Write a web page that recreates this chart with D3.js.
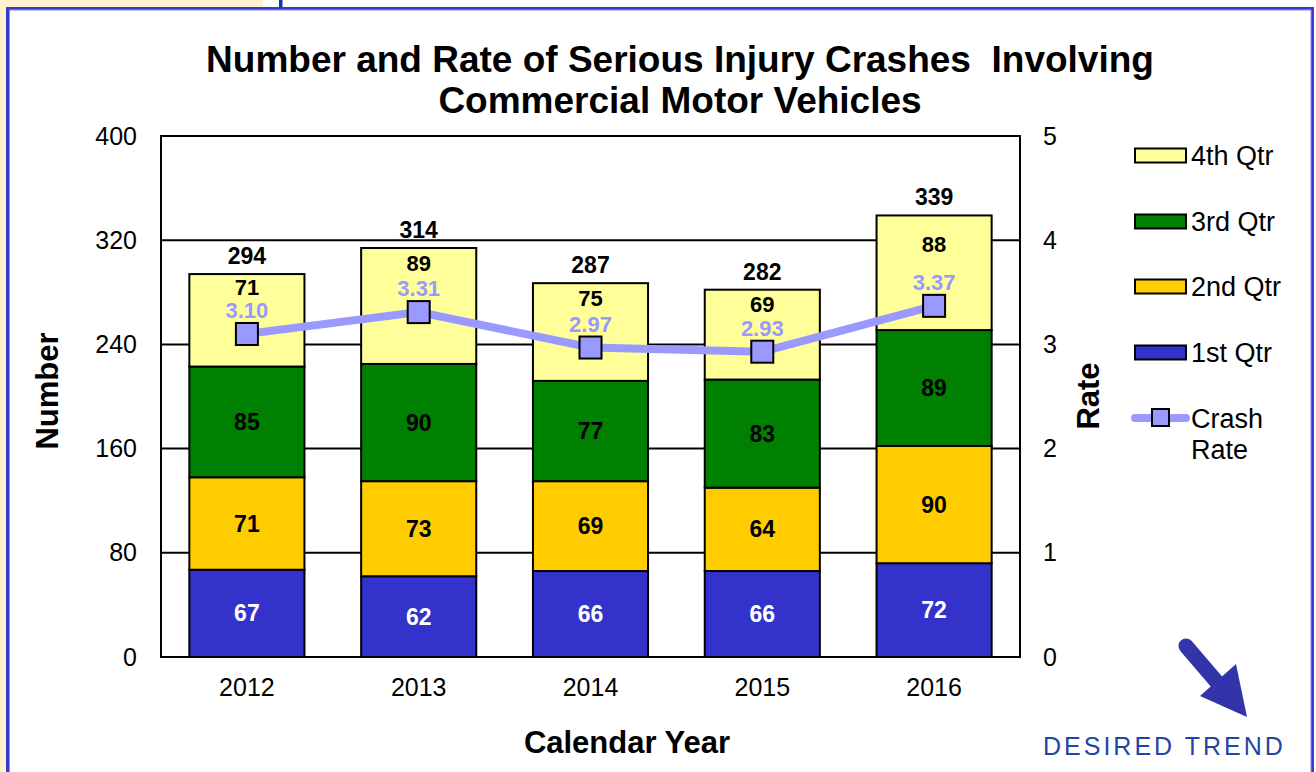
<!DOCTYPE html>
<html>
<head>
<meta charset="utf-8">
<script src="https://cdn.jsdelivr.net/npm/d3@7"></script>
<style>
  html, body { margin: 0; padding: 0; background: #ffffff; }
  svg { display: block; }
  text { font-family: "Liberation Sans", Arial, Helvetica, sans-serif; }
</style>
</head>
<body>
<svg id="chart" width="1316" height="772"></svg>
<script>
// ---- data ----
const years = ["2012", "2013", "2014", "2015", "2016"];
const q1 = [67, 62, 66, 66, 72];
const q2 = [71, 73, 69, 64, 90];
const q3 = [85, 90, 77, 83, 89];
const q4 = [71, 89, 75, 69, 88];
const totals = [294, 314, 287, 282, 339];
const crashRate = [3.10, 3.31, 2.97, 2.93, 3.37];
const seriesNames = ["1st Qtr", "2nd Qtr", "3rd Qtr", "4th Qtr"];
const leftTicks = [0, 80, 160, 240, 320, 400];
const rightTicks = [0, 1, 2, 3, 4, 5];

const colors = { "1st Qtr": "#3333cc", "2nd Qtr": "#ffcc00", "3rd Qtr": "#008000", "4th Qtr": "#ffff99" };
const rateColor = "#9999ff";

const svg = d3.select("#chart");

// ---- page frame ----
svg.append("rect").attr("x", 0).attr("y", 0).attr("width", 6).attr("height", 772).attr("fill", "#fff2cc");
svg.append("rect").attr("x", 0).attr("y", 0).attr("width", 263).attr("height", 7).attr("fill", "#fff2cc");
svg.append("rect").attr("x", 279).attr("y", 0).attr("width", 3.5).attr("height", 8).attr("fill", "#1133aa");
svg.append("path").attr("d", "M7.5,780 V8.5 H1312.5 V780").attr("fill", "none").attr("stroke", "#3a3acc").attr("stroke-width", 3);
svg.append("path").attr("d", "M9.5,780 V10 H1311 V780").attr("fill", "none").attr("stroke", "#8d8df0").attr("stroke-width", 1);

// ---- plot geometry ----
const plot = { left: 161, top: 136, right: 1020, bottom: 657 };

const x = d3.scaleBand().domain(years).range([plot.left, plot.right]).paddingInner(0.33).paddingOuter(0.165);
const y = d3.scaleLinear().domain([0, 400]).range([plot.bottom, plot.top]);
const yR = d3.scaleLinear().domain([0, 5]).range([plot.bottom, plot.top]);

// gridlines
svg.append("g").selectAll("line").data(leftTicks.filter(t => t > 0 && t < 400)).join("line")
  .attr("x1", plot.left).attr("x2", plot.right)
  .attr("y1", d => y(d)).attr("y2", d => y(d))
  .attr("stroke", "#000").attr("stroke-width", 2);

// plot border
svg.append("rect").attr("x", plot.left).attr("y", plot.top)
  .attr("width", plot.right - plot.left).attr("height", plot.bottom - plot.top)
  .attr("fill", "none").attr("stroke", "#000").attr("stroke-width", 2);

// stacked bars
const table = years.map((yr, i) => ({ year: yr, "1st Qtr": q1[i], "2nd Qtr": q2[i], "3rd Qtr": q3[i], "4th Qtr": q4[i] }));
const stack = d3.stack().keys(seriesNames)(table);

const gBars = svg.append("g");
stack.forEach(layer => {
  gBars.append("g").selectAll("rect").data(layer).join("rect")
    .attr("x", d => x(d.data.year))
    .attr("width", x.bandwidth())
    .attr("y", d => y(d[1]))
    .attr("height", d => y(d[0]) - y(d[1]))
    .attr("fill", colors[layer.key])
    .attr("stroke", "#000").attr("stroke-width", 2);
});

// axes (labels only)
const fontFam = "Liberation Sans, Arial, sans-serif";
const axL = svg.append("g").attr("transform", `translate(${plot.left},0)`)
  .call(d3.axisLeft(y).tickValues(leftTicks).tickSize(0).tickPadding(24));
axL.select(".domain").remove();
axL.selectAll("text").attr("font-size", 25).attr("fill", "#000").style("font-family", fontFam);

const axR = svg.append("g").attr("transform", `translate(${plot.right},0)`)
  .call(d3.axisRight(yR).tickValues(rightTicks).tickFormat(d3.format("d")).tickSize(0).tickPadding(23));
axR.select(".domain").remove();
axR.selectAll("text").attr("font-size", 25).attr("fill", "#000").style("font-family", fontFam);

const axB = svg.append("g").attr("transform", `translate(0,${plot.bottom})`)
  .call(d3.axisBottom(x).tickSize(0).tickPadding(21));
axB.select(".domain").remove();
axB.selectAll("text").attr("font-size", 25).attr("fill", "#000").style("font-family", fontFam);

// segment labels (Q1..Q3 centered)
const cx = yr => x(yr) + x.bandwidth() / 2;
stack.slice(0, 3).forEach((layer, li) => {
  svg.append("g").selectAll("text").data(layer).join("text")
    .attr("x", d => cx(d.data.year))
    .attr("y", d => (y(d[0]) + y(d[1])) / 2)
    .attr("dy", "0.35em")
    .attr("text-anchor", "middle")
    .attr("font-size", 23).attr("font-weight", "bold")
    .attr("fill", li === 0 ? "#ffffff" : "#000000")
    .text(d => d.data[layer.key]);
});

// rate line and markers
const rateLabelBase = i => yR(crashRate[i]) - 16;
const line = d3.line().x((d, i) => cx(years[i])).y(d => yR(d));
svg.append("path").datum(crashRate).attr("d", line)
  .attr("fill", "none").attr("stroke", rateColor).attr("stroke-width", 8);
svg.append("g").selectAll("rect").data(crashRate).join("rect")
  .attr("x", (d, i) => cx(years[i]) - 11).attr("y", d => yR(d) - 11)
  .attr("width", 22).attr("height", 22)
  .attr("fill", rateColor).attr("stroke", "#000").attr("stroke-width", 2);
svg.append("g").selectAll("text").data(crashRate).join("text")
  .attr("x", (d, i) => cx(years[i])).attr("y", (d, i) => rateLabelBase(i))
  .attr("text-anchor", "middle").attr("font-size", 22).attr("font-weight", "bold")
  .attr("fill", rateColor).text(d => d.toFixed(2));

// Q4 labels between bar top and rate label
const top4 = stack[3];
svg.append("g").selectAll("text").data(top4).join("text")
  .attr("x", d => cx(d.data.year))
  .attr("y", (d, i) => (y(d[1]) + rateLabelBase(i)) / 2 - 1)
  .attr("text-anchor", "middle").attr("font-size", 22).attr("font-weight", "bold")
  .attr("fill", "#000").text(d => d.data["4th Qtr"]);

// totals
svg.append("g").selectAll("text").data(totals).join("text")
  .attr("x", (d, i) => cx(years[i])).attr("y", d => y(d) - 10)
  .attr("text-anchor", "middle").attr("font-size", 23).attr("font-weight", "bold")
  .attr("fill", "#000").text(d => d);

// titles
const title = svg.append("text").attr("text-anchor", "middle").attr("font-size", 37).attr("font-weight", "bold").attr("fill", "#000");
title.append("tspan").attr("x", 680).attr("y", 72).style("white-space", "pre").text("Number and Rate of Serious Injury Crashes  Involving");
title.append("tspan").attr("x", 680).attr("y", 113).text("Commercial Motor Vehicles");

svg.append("text").attr("x", 627).attr("y", 753).attr("text-anchor", "middle")
  .attr("font-size", 31).attr("font-weight", "bold").text("Calendar Year");
svg.append("text").attr("transform", "translate(58,391) rotate(-90)").attr("text-anchor", "middle")
  .attr("font-size", 31).attr("font-weight", "bold").text("Number");
svg.append("text").attr("transform", "translate(1099,396) rotate(-90)").attr("text-anchor", "middle")
  .attr("font-size", 31).attr("font-weight", "bold").text("Rate");

// legend
const legendItems = ["4th Qtr", "3rd Qtr", "2nd Qtr", "1st Qtr"];
const legendY = [155.5, 221.5, 286.5, 352.5];
const lg = svg.append("g");
legendItems.forEach((name, i) => {
  lg.append("rect").attr("x", 1135).attr("y", legendY[i] - 7).attr("width", 51).attr("height", 14)
    .attr("fill", colors[name]).attr("stroke", "#000").attr("stroke-width", 2);
  lg.append("text").attr("x", 1191).attr("y", legendY[i] + 9).attr("font-size", 27).attr("fill", "#000").text(name);
});
lg.append("line").attr("x1", 1135).attr("x2", 1186).attr("y1", 418).attr("y2", 418)
  .attr("stroke", rateColor).attr("stroke-width", 8).attr("stroke-linecap", "round");
lg.append("rect").attr("x", 1152).attr("y", 409).attr("width", 17).attr("height", 17)
  .attr("fill", rateColor).attr("stroke", "#000").attr("stroke-width", 2);
const lt = lg.append("text").attr("font-size", 27).attr("fill", "#000");
lt.append("tspan").attr("x", 1191).attr("y", 428).text("Crash");
lt.append("tspan").attr("x", 1191).attr("y", 459).text("Rate");

// desired trend arrow
const ag = svg.append("g");
ag.append("line").attr("x1", 1186).attr("y1", 646).attr("x2", 1222).attr("y2", 688)
  .attr("stroke", "#3333aa").attr("stroke-width", 15).attr("stroke-linecap", "round");
ag.append("path").attr("d", "M1200,696 L1236,664 L1247,717 Z").attr("fill", "#3333aa");
svg.append("text").attr("x", 1043).attr("y", 755).attr("font-size", 25).attr("letter-spacing", 3)
  .attr("fill", "#1f44a8").text("DESIRED TREND");
</script>
</body>
</html>
